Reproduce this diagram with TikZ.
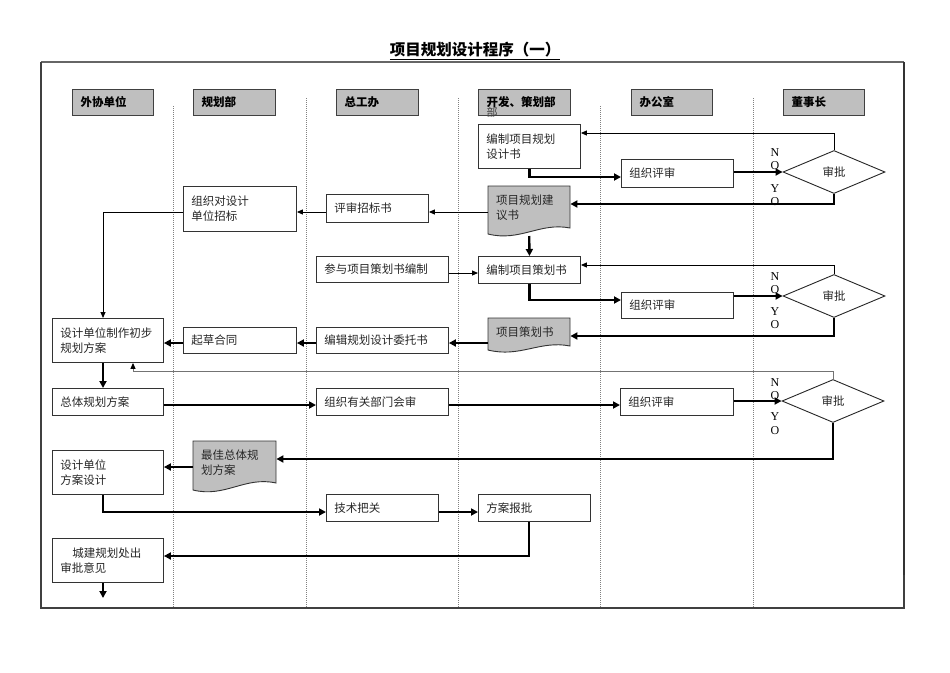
\documentclass[tikz,border=0pt]{standalone}
\usepackage{fontspec}
\setmainfont{Noto Sans CJK SC}
\newfontfamily\latin{Liberation Serif}
\usetikzlibrary{arrows.meta,shapes.geometric}
\begin{document}
\begin{tikzpicture}[x=1pt,y=-1pt,
 hdr/.style={draw=black!75, fill=gray!50, line width=1pt, anchor=north west, minimum height=26pt, inner xsep=8pt, inner ysep=0pt, align=left, font=\bfseries\fontsize{11.5}{14}\selectfont},
 box/.style={draw=black!80, line width=0.9pt, fill=white, anchor=north west, inner xsep=8pt, inner ysep=0pt, align=left, font=\fontsize{11.5}{15}\selectfont, text=black!85},
 doc/.style={anchor=north west, inner xsep=8pt, inner ysep=0pt, align=left, font=\fontsize{11.5}{15}\selectfont, text=black!85},
 docshape/.style={draw=black!80, fill=gray!50, line width=0.9pt},
 dec/.style={draw=black!85, line width=0.9pt, fill=white, shape=diamond, inner sep=0pt, minimum width=102pt, minimum height=43pt, font=\fontsize{11.5}{14}\selectfont, text=black!85},
 flowB/.style={line width=2.4pt, -{Triangle[length=7pt,width=7pt]}},
 flowA/.style={line width=0.9pt, -{Triangle[length=6pt,width=5pt]}},
 flowG/.style={line width=0.9pt, draw=black!55, -{Triangle[length=6pt,width=5pt,black]}},
 lane/.style={gray, dash pattern=on 1pt off 1pt, line width=0.7pt},
 yn/.style={font=\latin\fontsize{12}{12}\selectfont, inner sep=0pt}
]
\useasboundingbox (0,0) rectangle (950,672);

% title
\node[font=\bfseries\fontsize{15.5}{18}\selectfont] (title) at (475,51) {\underline{项目规划设计程序（一）}};

% frame
\draw[gray!80!black, line width=1.2pt] (41,62) -- (904,62);
\draw[black!75, line width=1.2pt] (41,62) -- (41,608) -- (904,608) -- (904,575);
\draw[black!80, line width=2.2pt] (904,62) -- (904,575);

% lanes
\foreach \lx/\ly in {173/106, 306/98, 458/98, 600/106, 753/98}
  \draw[lane] (\lx,\ly) -- (\lx,608);

% headers
\node[hdr, text width=65pt] (h1) at (72,89) {外协单位};
\node[hdr, text width=66pt] (h2) at (193,89) {规划部};
\node[hdr, text width=66pt] (h3) at (336,89) {总工办};
\node[hdr, text width=76pt] (h4) at (478,89) {开发、策划部};
\node[inner sep=0pt, font=\fontsize{11}{12}\selectfont, text=black!75] (h4b) at (492,112) {部};
\node[hdr, text width=65pt] (h5) at (631,89) {办公室};
\node[hdr, text width=65pt] (h6) at (783,89) {董事长};

% document shapes
\draw[docshape] (488,186) -- (570,186) -- (570,228) .. controls (540,222) and (520,242) .. (488,234) -- cycle;
\draw[docshape] (488,318) -- (570,318) -- (570,346) .. controls (540,340) and (520,358) .. (488,350) -- cycle;
\draw[docshape] (193,441) -- (276,441) -- (276,483) .. controls (245,476) and (225,498) .. (193,490) -- cycle;

% nodes
\node[box, text width=86pt, minimum height=44pt] (n1) at (478,124) {编制项目规划\\设计书};
\node[box, text width=96pt, minimum height=28pt] (r1) at (621,159) {组织评审};
\node[dec] (d1) at (834,172) {审批};
\node[doc, text width=66pt, minimum height=42pt] (doc1) at (488,186) {项目规划建\\议书};
\node[box, text width=86pt, minimum height=28pt] (n5) at (326,194) {评审招标书};
\node[box, text width=97pt, minimum height=45pt] (n6) at (183,186) {组织对设计\\单位招标};
\node[box, text width=116pt, minimum height=26pt] (n7) at (316,256) {参与项目策划书编制};
\node[box, text width=86pt, minimum height=27pt] (n8) at (478,256) {编制项目策划书};
\node[box, text width=96pt, minimum height=26pt] (r2) at (621,292) {组织评审};
\node[dec] (d2) at (834,296) {审批};
\node[doc, text width=66pt, minimum height=28pt] (doc2) at (488,318) {项目策划书};
\node[box, text width=116pt, minimum height=26pt] (n12) at (316,327) {编辑规划设计委托书};
\node[box, text width=97pt, minimum height=26pt] (n13) at (183,327) {起草合同};
\node[box, text width=95pt, minimum height=44pt] (n14) at (52,318) {设计单位制作初步\\规划方案};
\node[box, text width=95pt, minimum height=27pt] (n15) at (52,388) {总体规划方案};
\node[box, text width=116pt, minimum height=27pt] (n16) at (316,388) {组织有关部门会审};
\node[box, text width=97pt, minimum height=27pt] (r3) at (620,388) {组织评审};
\node[dec] (d3) at (833,401) {审批};
\node[doc, text width=67pt, minimum height=42pt] (doc3) at (193,441) {最佳总体规\\划方案};
\node[box, text width=95pt, minimum height=44pt] (n20) at (52,450) {设计单位\\方案设计};
\node[box, text width=96pt, minimum height=27pt] (n21) at (326,494) {技术把关};
\node[box, text width=96pt, minimum height=27pt] (n22) at (478,494) {方案报批};
\node[box, text width=95pt, minimum height=44pt] (n23) at (52,538) {\hspace*{12pt}城建规划处出\\审批意见};

% N O / Y O labels
\node[yn] (a1) at (775,153) {N};
\node[yn] (a2) at (775,166) {O};
\node[yn] (a3) at (775,189) {Y};
\node[yn] (a4) at (775,202) {O};
\node[yn] (b1) at (775,277) {N};
\node[yn] (b2) at (775,290) {O};
\node[yn] (b3) at (775,312) {Y};
\node[yn] (b4) at (775,325) {O};
\node[yn] (c1) at (775,383) {N};
\node[yn] (c2) at (775,396) {O};
\node[yn] (c3) at (775,417) {Y};
\node[yn] (c4) at (775,431) {O};

% connectors
\draw[flowB] (n1.south) |- (r1.west |- 0,177);
\draw[flowB] (r1.east |- d1.west) -- (d1.west);
\draw[flowA] (d1.north) |- (n1.east |- 0,133);
\draw[flowB] (d1.south) |- (doc1.east |- 0,204);
\draw[flowA] (doc1.west |- 0,212) -- (n5.east |- 0,212);
\draw[flowA] (n5.west |- 0,212) -- (n6.east |- 0,212);
\draw[flowA] (n6.west |- 0,212) -| (103,0 |- n14.north);
\draw[flowB] (doc1.south |- 0,236) -- (n8.north);
\draw[flowA] (n7.east |- 0,273) -- (n8.west |- 0,273);
\draw[flowB] (n8.south) |- (r2.west |- 0,300);
\draw[flowB] (r2.east |- d2.west) -- (d2.west);
\draw[flowA] (d2.north) |- (n8.east |- 0,265);
\draw[flowB] (d2.south) |- (doc2.east |- 0,336);
\draw[flowB] (doc2.west |- 0,343) -- (n12.east |- 0,343);
\draw[flowB] (n12.west |- 0,343) -- (n13.east |- 0,343);
\draw[flowB] (n13.west |- 0,343) -- (n14.east |- 0,343);
\draw[flowG] (d3.north) |- (133,371) -- (133,0 |- n14.south);
\draw[flowB] (103,0 |- n14.south) -- (103,0 |- n15.north);
\draw[flowB] (n15.east |- 0,405) -- (n16.west |- 0,405);
\draw[flowB] (n16.east |- 0,405) -- (r3.west |- 0,405);
\draw[flowB] (r3.east |- d3.west) -- (d3.west);
\draw[flowB] (d3.south) |- (doc3.east |- 0,459);
\draw[flowB] (doc3.west |- 0,467) -- (n20.east |- 0,467);
\draw[flowB] (103,0 |- n20.south) |- (n21.west |- 0,512);
\draw[flowB] (n21.east |- 0,512) -- (n22.west |- 0,512);
\draw[flowB] (529,0 |- n22.south) |- (n23.east |- 0,556);
\coordinate (endpt) at (103,598);
\draw[flowB] (103,0 |- n23.south) -- (endpt);
\end{tikzpicture}
\end{document}
